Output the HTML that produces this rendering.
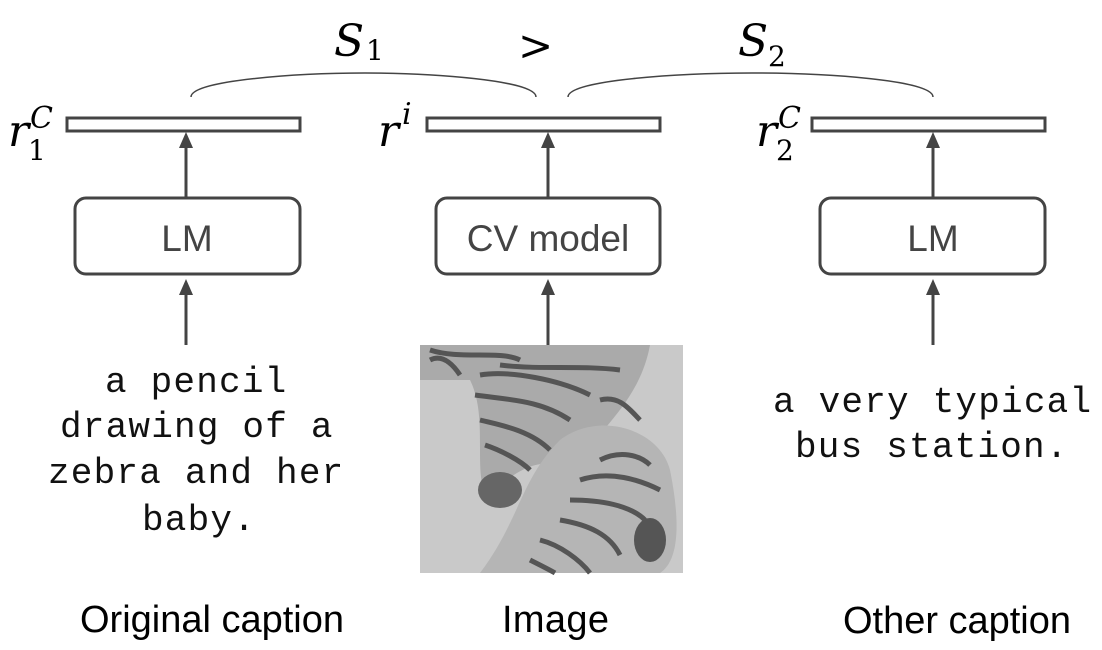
<!DOCTYPE html>
<html><head><meta charset="utf-8"><style>
html,body{margin:0;padding:0;background:#fff;}
svg{display:block}
.m{font-family:"Liberation Mono",monospace;font-size:36px;fill:#111}
.s{font-family:"Liberation Sans",sans-serif;font-size:38px;fill:#000}
.b{font-family:"Liberation Sans",sans-serif;font-size:37px;fill:#444}
.it{font-family:"DejaVu Serif","Liberation Serif",serif;font-style:italic;font-size:44px;fill:#000}
.sub{font-family:"DejaVu Serif","Liberation Serif",serif;font-size:28px;fill:#000}
</style></head><body>
<svg width="1102" height="650" viewBox="0 0 1102 650" xmlns="http://www.w3.org/2000/svg">
<g stroke="#444" stroke-width="3" fill="none">
<rect x="67" y="118" width="233" height="13"/>
<rect x="427" y="118" width="233" height="13"/>
<rect x="812" y="118" width="233" height="13"/>
<rect x="75" y="198" width="225" height="76" rx="11"/>
<rect x="436" y="198" width="224" height="76" rx="11"/>
<rect x="820" y="198" width="225" height="76" rx="11"/>
</g>
<g fill="#444">
<rect x="184.5" y="146" width="3" height="52"/><path d="M179,148 L186,132 L193,148Z"/>
<rect x="546.5" y="146" width="3" height="52"/><path d="M541,148 L548,132 L555,148Z"/>
<rect x="931.5" y="146" width="3" height="52"/><path d="M926,148 L933,132 L940,148Z"/>
<rect x="184.5" y="293" width="3" height="52"/><path d="M179,295 L186,279 L193,295Z"/>
<rect x="546.5" y="293" width="3" height="52"/><path d="M541,295 L548,279 L555,295Z"/>
<rect x="931.5" y="293" width="3" height="52"/><path d="M926,295 L933,279 L940,295Z"/>
</g>
<g stroke="#444" stroke-width="1.5" fill="none">
<path d="M191,97 C191,80 300,73 365,73 C430,73 536,80 536,97"/>
<path d="M568,97 C568,80 680,73 752,73 C825,73 933,80 933,97"/>
</g>
<text class="it" x="334" y="56">S</text><text class="sub" x="366" y="60">1</text>
<text x="518" y="60" style="font-family:'DejaVu Serif',serif;font-size:42px">&gt;</text>
<text class="it" x="738" y="56">S</text><text class="sub" x="768" y="66">2</text>
<text class="it" x="8" y="146">r</text><text class="sub" x="28" y="160">1</text><text class="it" x="30" y="128" style="font-size:30px">C</text>
<text class="it" x="378" y="146">r</text><text class="it" x="402" y="124" style="font-size:30px">i</text>
<text class="it" x="756" y="146">r</text><text class="sub" x="776" y="160">2</text><text class="it" x="778" y="128" style="font-size:30px">C</text>
<text class="b" x="187" y="251" text-anchor="middle">LM</text>
<text class="b" x="548" y="251" text-anchor="middle">CV model</text>
<text class="b" x="933" y="251" text-anchor="middle">LM</text>
<g class="m" style="letter-spacing:1.2px">
<text x="105" y="392">a pencil</text>
<text x="60" y="437">drawing of a</text>
<text x="48" y="483">zebra and her</text>
<text x="142" y="530">baby.</text>
<text x="773" y="412">a very typical</text>
<text x="795" y="457">bus station.</text>
</g>
<text class="s" x="80" y="632" textLength="264">Original caption</text>
<text class="s" x="502" y="632" textLength="107">Image</text>
<text class="s" x="843" y="633" textLength="228">Other caption</text>
<g>
<rect x="420" y="345" width="263" height="228" fill="#c9c9c9"/>
<path d="M420,345 L650,345 C640,400 600,430 570,470 C540,450 500,480 490,500 C470,480 490,420 470,380 L420,380Z" fill="#aaa"/>
<path d="M560,440 C600,410 660,430 670,470 C680,520 680,560 660,573 L480,573 C520,520 520,480 560,440Z" fill="#b5b5b5"/>
<g stroke="#555" stroke-width="5" fill="none">
<path d="M430,350 C460,360 500,350 520,360"/><path d="M480,375 C510,370 560,380 590,395"/>
<path d="M475,395 C510,400 540,400 570,420"/><path d="M480,420 C500,425 530,430 550,450"/>
<path d="M485,445 C500,450 520,460 530,470"/><path d="M500,365 C540,370 580,365 620,370"/>
<path d="M580,480 C610,470 640,480 660,490"/><path d="M570,500 C600,500 630,505 645,520"/>
<path d="M560,520 C590,525 610,535 620,555"/><path d="M540,540 C560,545 580,560 590,573"/>
<path d="M600,460 C620,450 640,455 650,465"/><path d="M530,560 C540,565 550,570 555,573"/>
<path d="M430,360 C440,355 450,360 460,375"/><path d="M600,400 C620,395 630,410 640,420"/>
</g>
<ellipse cx="500" cy="490" rx="22" ry="18" fill="#666"/>
<ellipse cx="650" cy="540" rx="16" ry="22" fill="#555"/>
</g>
</svg>
</body></html>
